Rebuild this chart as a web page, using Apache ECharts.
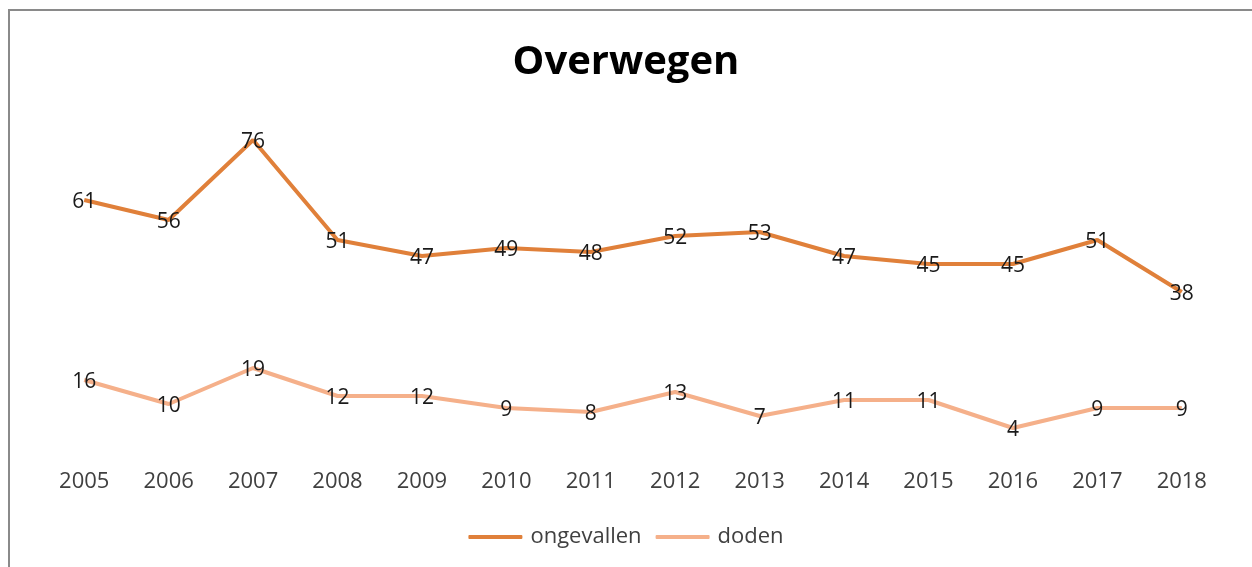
<!DOCTYPE html>
<html>
	<head>
		<meta charset="utf-8">
		<title>Overwegen</title>
		<script src="https://cdn.jsdelivr.net/npm/echarts@6/dist/echarts.min.js"></script>
	</head>
	<body style="margin: 0; overflow: hidden; background: #fff;">
		<div id="frame" style="position: absolute; left: 8px; top: 9px; width: 1252px; height: 570px; border-left: 2px solid #8a8a8a; border-top: 2px solid #8a8a8a;"></div>
		<div id="main" style="position: absolute; left: 0; top: 0; width: 1252px; height: 567px;"></div>
		<script type="text/javascript">
			var jaren = ['2005', '2006', '2007', '2008', '2009', '2010', '2011', '2012', '2013', '2014', '2015', '2016', '2017', '2018'];
			var ongevallen = [61, 56, 76, 51, 47, 49, 48, 52, 53, 47, 45, 45, 51, 38];
			var doden = [16, 10, 19, 12, 12, 9, 8, 13, 7, 11, 11, 4, 9, 9];

			var myChart = echarts.init(document.getElementById('main'));

			// labels midden op het punt, net als in Excel
			var labelStijl = {
				show: true,
				position: 'inside',
				offset: [0, 2],
				color: '#1a1a1a',
				fontSize: 21,
				fontFamily: 'Open Sans'
			};

			var option = {
				animation: false,
				title: {
					text: 'Overwegen',
					left: 'center',
					top: 38,
					textStyle: {
						fontSize: 40,
						fontWeight: 'bold',
						fontFamily: 'Open Sans',
						color: '#000'
					}
				},
				legend: {
					bottom: 14,
					left: 'center',
					itemWidth: 54,
					itemHeight: 4,
					itemGap: 14,
					icon: 'roundRect',
					textStyle: {
						fontSize: 22,
						fontFamily: 'Open Sans',
						color: '#404040',
						padding: [0, 0, 0, 3]
					},
					data: ['ongevallen', 'doden']
				},
				grid: {
					left: 42,
					right: 28,
					top: 124,
					bottom: 123
				},
				xAxis: {
					type: 'category',
					data: jaren,
					axisLine: { show: false },
					axisTick: { show: false },
					axisLabel: {
						margin: 27,
						fontSize: 22,
						fontFamily: 'Open Sans',
						color: '#404040'
					}
				},
				yAxis: {
					type: 'value',
					min: 0,
					max: 80,
					show: false,
					splitLine: { show: false }
				},
				series: [
					{
						name: 'ongevallen',
						type: 'line',
						data: ongevallen,
						symbol: 'circle',
						symbolSize: 0.1,
						showSymbol: true,
						color: '#E0803A',
						lineStyle: { width: 4, color: '#E0803A' },
						label: labelStijl
					},
					{
						name: 'doden',
						type: 'line',
						data: doden,
						symbol: 'circle',
						symbolSize: 0.1,
						showSymbol: true,
						color: '#F5B08A',
						lineStyle: { width: 4, color: '#F5B08A' },
						label: labelStijl
					}
				]
			};
			myChart.setOption(option);
		</script>
	</body>
</html>
